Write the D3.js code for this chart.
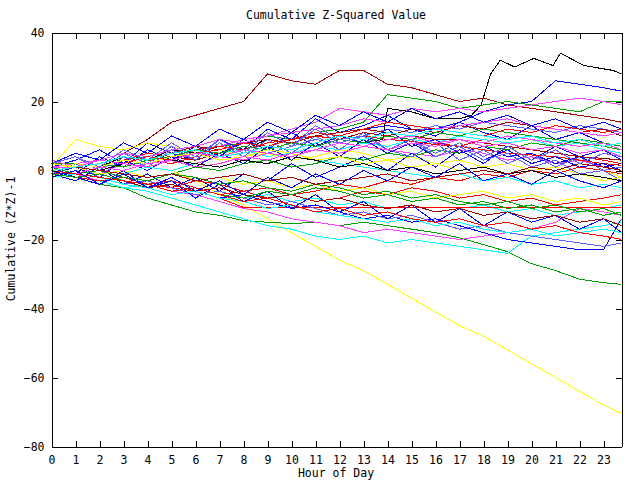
<!DOCTYPE html>
<html>
<head>
<meta charset="utf-8">
<script src="https://cdn.jsdelivr.net/npm/d3@7"></script>
<style>
  html, body { margin: 0; padding: 0; background: #fff; }
  svg text { font-family: "DejaVu Sans Mono", monospace; font-size: 11.5px; fill: #000; }
</style>
</head>
<body>
<svg id="chart" width="640" height="480"></svg>
<script>
// ---------------- data ----------------
const hours = [0,1,2,3,4,5,6,7,8,9,10,11,12,13,14,15,16,17,18,19,20,21,22,23,23.75];
const xTickValues = [0,1,2,3,4,5,6,7,8,9,10,11,12,13,14,15,16,17,18,19,20,21,22,23];
const yTickValues = [-80,-60,-40,-20,0,20,40];

const seriesColors = [
  "#a00000","#0000ff","#00a000","#ff40ff","#0000ff","#6060ff","#ff0000","#00ffff","#ffff00","#a00000",
  "#ff40ff","#0000ff","#00a000","#ff0000","#00ffff","#6060ff","#ffff00","#ff0000","#00a000","#00ffff",
  "#ff40ff","#0000ff","#6060ff","#0000ff","#ff0000","#a00000","#0000ff","#00a000","#ff40ff","#00ffff",
  "#ff0000","#6060ff","#0000ff","#a00000","#ffff00","#ffff00","#00a000","#ff40ff","#000000","#ff0000",
  "#00ffff","#0000ff","#a00000","#6060ff","#00a000","#ff0000","#ff40ff","#00ffff","#0000ff"
];

const seriesValues = [
  [1,1,3,5,9,14,16,18,20,28,26,25,29,29,25,24,22,20,21,19,18,17,16,15,14],
  [0,-1,1,3,2,4,6,5,8,7,9,11,10,12,13,12,12,14,17,19,20,26,25,24,23],
  [2,2,1,3,4,6,5,7,8,10,9,11,12,14,22,21,20,18,19,20,19,18,17,20,20],
  [-1,1,-1,2,4,3,6,7,9,10,12,14,18,17,16,18,17,18,17,18,19,20,21,20,19],
  [1,3,6,2,8,5,3,9,6,12,9,15,11,13,16,12,10,14,11,9,13,9,11,8,7],
  [0,-1,1,2,1,3,5,4,6,5,7,9,8,10,12,11,13,12,14,13,12,11,13,12,11],
  [2,1,2,1,3,2,4,5,7,6,8,7,9,8,10,9,8,7,9,8,6,5,4,3,2],
  [-1,2,1,3,2,4,3,5,6,4,5,7,6,8,7,9,8,10,9,8,9,7,8,6,5],
  [1,9,7,6,8,7,5,6,4,5,3,4,6,5,3,4,2,3,1,2,0,1,-1,0,-2],
  [0,-1,1,0,2,4,3,5,7,6,8,10,9,11,10,12,11,13,12,14,13,12,11,12,10],
  [3,1,0,2,1,3,2,4,3,5,4,6,5,7,6,5,4,6,5,3,4,2,3,1,0],
  [-1,-3,1,-4,-1,-5,-2,-6,-1,-3,2,-2,1,4,0,5,1,6,2,7,3,7,4,6,3],
  [0,1,-1,0,-2,-1,1,0,2,3,1,2,4,3,5,4,6,5,7,6,8,7,9,8,7],
  [-2,-1,-3,-2,-4,-5,-3,-4,-6,-5,-7,-6,-4,-5,-3,-4,-2,-3,-1,-2,0,-1,1,0,-1],
  [0,-2,-3,-5,-4,-6,-7,-6,-8,-7,-9,-8,-10,-9,-11,-10,-12,-11,-10,-12,-11,-13,-12,-11,-10],
  [2,4,0,5,2,7,3,8,4,9,5,10,6,11,6,4,8,3,6,2,5,1,4,0,1],
  [0,1,0,2,1,0,-3,-7,-10,-14,-18,-22,-26,-29,-33,-37,-41,-45,-48,-52,-56,-60,-64,-68,-70.4],
  [-1,-1,-2,-4,-3,-5,-6,-8,-10.7,-10.7,-10.7,-10.7,-10.7,-10.7,-10.7,-10.7,-10.7,-10.7,-10.7,-10.7,-10.7,-10.7,-10.7,-10.7,-10.7],
  [0,-2,-4,-5,-8,-10,-12,-13,-14.5,-15,-15.4,-15,-16,-15,-16,-17,-18,-19.5,-21.5,-23.5,-27,-29,-31.5,-32.5,-33],
  [-1,-2,-3,-5,-6,-8,-10,-12,-14,-16,-17,-19,-20,-19,-21,-20,-21,-22,-23,-24,-19,-18,-17,-16,-15],
  [1,-1,-3,-2,-4,-6,-7,-9,-11,-12,-14,-15,-16,-18,-17,-18,-19,-20,-19,-18,-17,-15,-11,-12,-13],
  [0,-2,-1,-3,-5,-4,-6,-8,-7,-9,-11,-10,-12,-14,-13,-15,-14,-16,-18,-20,-21,-22,-23,-23,-14],
  [-2,-1,-2,-4,-3,-5,-7,-6,-8,-10,-9,-11,-13,-12,-14,-13,-15,-17,-16,-18,-19,-20,-21,-22,-21],
  [1,-1,4,1,6,3,7,4,9,6,11,7,10,8,12,7,9,5,7,4,5,2,4,1,2],
  [0,2,1,3,5,4,6,7,6,8,9,10,9,10,9,8.5,7.5,7,6,5,4.5,4,3,2,1.5],
  [2,1,2,4,3,5,7,6,8,9,8,10,11,12,11,10,9,9,8,7,6,5,4,3.5,3],
  [-1,1,-2,3,0,4,1,5,2,7,3,8,4,9,5,8,4,7,3,6,2,4,1,2,0],
  [0,1,2,1,3,4,6,5,7,6,8,7,9,8,10,9,11,10,12,11,10,9,8,7,6],
  [1,2,3,5,4,6,7,9,8,10,11,12,13,15,14,13,12,13,14,15,13,12,11,10,11],
  [0,1,0,-1,1,0,2,1,3,2,4,3,2,1,0,-1,-2,-1,-3,-2,-4,-3,-5,-4,-5],
  [-1,-2,-3,-2,-4,-3,-5,-7,-6,-8,-7,-9,-8,-6,-7,-5,-6,-8,-7,-9,-8,-10,-9,-8,-7],
  [-1,2,-2,4,1,6,3,9,5,11,7,13,9,10,6,9,4,7,3,5,1,3,-1,0,-3],
  [1,-2,-4,0,-5,-3,-8,-4,-9,-6,-11,-7,-12,-9,-14,-10,-15,-11,-16,-12,-15,-13,-17,-14,-18],
  [0,-1,-2,-3,-5,-4,-6,-5,-7,-8,-7,-9,-8,-10,-11,-10,-12,-11,-13,-12,-14,-13,-15,-14,-16],
  [2,1,-1,0,-2,-1,-3,-2,-4,-3,-5,-4,-6,-5,-7,-6,-8,-7,-6,-8,-7,-9,-8,-10,-9],
  [0,2,1,3,2,4,5,3,4,6,5,3,4,2,3,1,2,0,1,-1,0,-2,-1,-3,-2],
  [1,-1,0,-2,-3,-1,-2,-4,-3,-5,-6,-4,-5,-7,-6,-8,-7,-9,-10,-9,-11,-10,-12,-11,-13],
  [0,-1,1,0,2,3,1,2,4,3,5,6,8,7,9,10,8,9,7,8,6,7,5,6,4],
  [1,1,0,2,1,3,2,1,3,2,4,3,1,2,0,1,-1,0,1,-1,0,-2,-1,-2,-3],
  [0,1,3,2,4,3,5,6,8,7,9,11,10,12,14,13,12,11,10,12,11,13,12,11,12],
  [-2,-1,-2,-4,-5,-7,-6,-8,-9,-11,-10,-12,-13,-14,-15,-14,-16,-15,-17,-18,-17,-19,-18,-17,-18],
  [2,5,3,8,5,10,7,12,9,14,11,16,13,17,14,18,15,17,14,16,13,15,12,14,12],
  [0,1,0,-1,-2,-1,-3,-2,-1,-3,-2,-4,-3,-2,-1,-3,-2,-1,0,-1,1,0,2,1,0],
  [2,4,1,6,3,8,4,9,5,11,7,12,8,10,6,9,5,8,4,7,3,6,2,5,4],
  [-1,-2,-1,-3,-4,-6,-5,-7,-8,-6,-7,-5,-6,-8,-7,-9,-8,-10,-9,-11,-10,-12,-11,-13,-12],
  [0,-1,-2,-3,-4,-6,-5,-7,-9,-8,-10,-12,-11,-13,-12,-14,-15,-14,-16,-15,-17,-16,-18,-19,-20],
  [1,1,3,2,1,3,5,4,6,5,4,6,5,7,6,8,7,9,8,10,9,8,7,8,6],
  [0,1,2,4,3,5,6,4,5,7,6,8,10,9,11,10,12,11,10,9,10,8,9,7,8],
  [-2,0,-4,-1,-5,-2,-6,-3,-7,-2,-5,-1,-4,0,-3,1,-2,2,-3,-1,-4,0,-3,-5,-3]
];

// the black series that climbs to the top at the end of the day (own time stamps)
const blackHours  = [0,1,2,3,4,5,6,7,8,9,10,11,12,13,13.8,14,15,16,17,17.5,17.9,18.3,18.7,19.3,20.1,20.9,21.2,22.2,23.4,23.75];
const blackValues = [0,2,1,4,3,6,5,7,6,9,8,10,9,8,9,18,17,15,15,16,19,28,32,30,32.5,30.4,34,30.4,29,28];

// ---------------- layout ----------------
(function () {
const svg = d3.select("#chart");
const W = 640, H = 480;
const mLeft = 51, mRight = 621, mTop = 32, mBottom = 446;

svg.append("rect").attr("width", W).attr("height", H).attr("fill", "#fff");

const x = d3.scaleLinear().domain([0, 23.75]).range([mLeft, mRight]);
const y = d3.scaleLinear().domain([-80, 40]).range([mBottom, mTop]);

svg.append("defs").append("clipPath").attr("id", "plotclip")
  .append("rect").attr("x", mLeft).attr("y", mTop).attr("width", mRight - mLeft).attr("height", mBottom - mTop);

const lineGen = d3.line().x(d => x(d[0])).y(d => y(d[1]));
const plot = svg.append("g").attr("clip-path", "url(#plotclip)").attr("transform", "translate(0.5,0.5)");

function drawSeries(hrs, vals, color) {
  plot.append("path")
    .datum(hrs.map((h, i) => [h, vals[i]]))
    .attr("d", lineGen)
    .attr("fill", "none")
    .attr("stroke", color)
    .attr("stroke-width", 1)
    .attr("shape-rendering", "crispEdges");
}

seriesValues.forEach((vals, i) => {
  drawSeries(hours, vals, seriesColors[i]);
  if (i === 20) drawSeries(blackHours, blackValues, "#000000");
});

// ---------------- axes ----------------
const tick = 6;
function styleAxis(g) {
  g.selectAll("path.domain").attr("stroke", "#000").attr("stroke-width", 1).attr("shape-rendering", "crispEdges");
  g.selectAll(".tick line").attr("stroke", "#000").attr("shape-rendering", "crispEdges");
  g.selectAll("text").attr("font-family", "DejaVu Sans Mono, monospace").attr("font-size", "11.5px").attr("fill", "#000");
}

svg.append("g").attr("transform", `translate(0.5,${mBottom + 0.5})`)
  .call(d3.axisBottom(x).tickValues(xTickValues).tickFormat(d3.format("d")).tickSizeInner(-tick).tickSizeOuter(0).tickPadding(9))
  .call(styleAxis);
svg.append("g").attr("transform", `translate(0.5,${mTop + 0.5})`)
  .call(d3.axisTop(x).tickValues(xTickValues).tickFormat("").tickSizeInner(-tick).tickSizeOuter(0))
  .call(styleAxis);
svg.append("g").attr("transform", `translate(${mLeft + 0.5},0.5)`)
  .call(d3.axisLeft(y).tickValues(yTickValues).tickFormat(d3.format("d")).tickSizeInner(-tick).tickSizeOuter(0).tickPadding(7))
  .call(styleAxis);
svg.append("g").attr("transform", `translate(${mRight + 0.5},0.5)`)
  .call(d3.axisRight(y).tickValues(yTickValues).tickFormat("").tickSizeInner(-tick).tickSizeOuter(0))
  .call(styleAxis);

// ---------------- titles ----------------
const cx = (mLeft + mRight) / 2;
svg.append("text").attr("x", cx).attr("y", 19).attr("text-anchor", "middle").text("Cumulative Z-Squared Value");
svg.append("text").attr("x", cx).attr("y", 477).attr("text-anchor", "middle").text("Hour of Day");
svg.append("text").attr("transform", `translate(15,${(mTop + mBottom) / 2}) rotate(-90)`)
  .attr("text-anchor", "middle").text("Cumulative (Z*Z)-1");
})();
</script>
</body>
</html>
